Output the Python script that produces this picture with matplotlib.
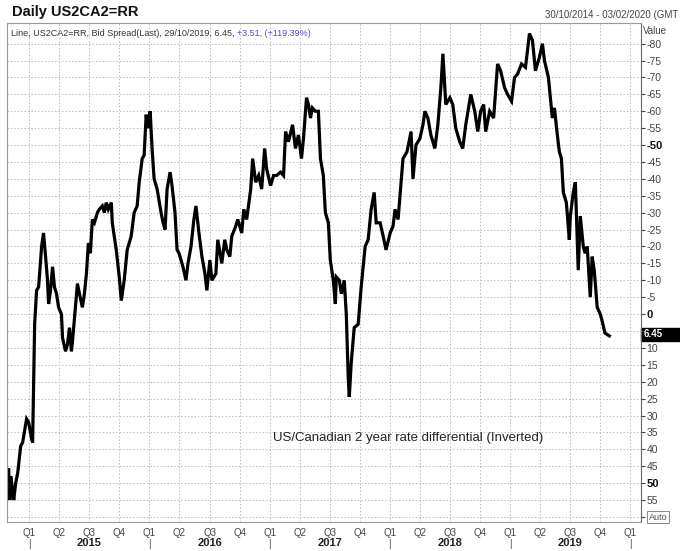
import matplotlib
matplotlib.use("Agg")
import matplotlib.pyplot as plt
import matplotlib.transforms as mtransforms

plt.rcParams['font.family'] = ['Liberation Sans', 'DejaVu Sans']

# bid spread (axis is inverted), x in decimal years
years = [2014.829, 2014.838, 2014.846, 2014.862, 2014.871, 2014.887, 2014.904, 2014.929,
         2014.945, 2014.978, 2014.995, 2015.020, 2015.028, 2015.045, 2015.061, 2015.078,
         2015.103, 2015.119, 2015.136, 2015.152, 2015.161, 2015.177, 2015.194, 2015.210,
         2015.227, 2015.244, 2015.268, 2015.277, 2015.302, 2015.318, 2015.335, 2015.351,
         2015.360, 2015.384, 2015.401, 2015.418, 2015.442, 2015.459, 2015.476, 2015.492,
         2015.509, 2015.525, 2015.542, 2015.567, 2015.583, 2015.608, 2015.625, 2015.641,
         2015.658, 2015.683, 2015.691, 2015.724, 2015.749, 2015.766, 2015.790, 2015.815,
         2015.848, 2015.873, 2015.898, 2015.915, 2015.940, 2015.956, 2015.973, 2015.989,
         2016.006, 2016.022, 2016.039, 2016.064, 2016.097, 2016.114, 2016.130, 2016.147,
         2016.172, 2016.188, 2016.213, 2016.230, 2016.246, 2016.263, 2016.279, 2016.304,
         2016.321, 2016.346, 2016.370, 2016.387, 2016.412, 2016.437, 2016.462, 2016.478,
         2016.503, 2016.520, 2016.553, 2016.569, 2016.602, 2016.627, 2016.644, 2016.669,
         2016.685, 2016.718, 2016.735, 2016.768, 2016.785, 2016.809, 2016.843, 2016.859,
         2016.884, 2016.909, 2016.934, 2016.959, 2016.975, 2017.008, 2017.033, 2017.058,
         2017.091, 2017.116, 2017.133, 2017.157, 2017.191, 2017.215, 2017.240, 2017.265,
         2017.282, 2017.307, 2017.323, 2017.340, 2017.356, 2017.381, 2017.406, 2017.423,
         2017.447, 2017.464, 2017.489, 2017.505, 2017.530, 2017.547, 2017.555, 2017.580,
         2017.597, 2017.621, 2017.638, 2017.655, 2017.663, 2017.679, 2017.704, 2017.737,
         2017.762, 2017.795, 2017.820, 2017.845, 2017.870, 2017.887, 2017.920, 2017.945,
         2017.969, 2018.003, 2018.027, 2018.044, 2018.069, 2018.085, 2018.110, 2018.143,
         2018.177, 2018.193, 2018.218, 2018.251, 2018.276, 2018.292, 2018.317, 2018.342,
         2018.375, 2018.400, 2018.425, 2018.442, 2018.466, 2018.500, 2018.524, 2018.549,
         2018.582, 2018.607, 2018.632, 2018.674, 2018.707, 2018.732, 2018.756, 2018.781,
         2018.798, 2018.831, 2018.864, 2018.897, 2018.922, 2018.955, 2018.980, 2019.013,
         2019.038, 2019.063, 2019.096, 2019.129, 2019.146, 2019.162, 2019.187, 2019.212,
         2019.245, 2019.270, 2019.287, 2019.320, 2019.336, 2019.353, 2019.370, 2019.394,
         2019.411, 2019.428, 2019.444, 2019.469, 2019.494, 2019.502, 2019.527, 2019.544,
         2019.568, 2019.585, 2019.610, 2019.626, 2019.643, 2019.668, 2019.684, 2019.701,
         2019.726, 2019.751, 2019.767, 2019.790, 2019.827]
values = [46, 55, 48, 52, 55, 50, 47, 39,
          38, 31, 32, 37, 38, 3, -7, -8,
          -20, -24, -17, -10, -3, -7, -14, -8,
          -6, -2, 0, 7, 11, 9, 4, 11,
          8, -2, -9, -6, -2, -6, -12, -21,
          -18, -28, -27, -30, -31, -32, -30, -33,
          -31, -33, -27, -19, -11, -4, -10, -19,
          -23, -30, -32, -39, -46, -47, -59, -55,
          -60, -49, -40, -37, -30, -27, -25, -37,
          -42, -38, -30, -19, -18, -16, -14, -10,
          -15, -20, -28, -32, -24, -17, -12, -7,
          -16, -10, -12, -22, -15, -22, -19, -17,
          -23, -26, -28, -24, -31, -28, -37, -46,
          -39, -41, -37, -49, -43, -38, -41, -41,
          -42, -41, -54, -51, -56, -49, -53, -46,
          -52, -64, -62, -58, -61, -60, -60, -46,
          -41, -30, -27, -16, -10, -3, -11, -10,
          -6, -10, 0, 19.5, 24.5, 14.5, 4, 3,
          -8, -20, -22, -31, -36, -27, -27, -23,
          -19, -24, -26, -31, -28, -35, -46, -48,
          -54, -40, -50, -52, -56, -60, -58, -53,
          -49, -56, -67, -77, -62, -64, -62, -55,
          -51, -49, -56, -65, -60, -54, -60, -62,
          -54, -60, -58, -74, -72, -67, -65, -63,
          -70, -71, -74, -73, -78, -83, -81, -72,
          -76, -80, -75, -70, -64, -58, -61, -53,
          -48, -46, -36, -33, -22, -29, -36, -39,
          -13, -29, -20, -18, -20, -5, -17, -13,
          -2, 0, 2, 5.6, 6.45]

quarter_labels = ['Q1', 'Q2', 'Q3', 'Q4']
year_labels = ['2015', '2016', '2017', '2018', '2019']
y_ticks = list(range(-80, 65, 5))
hidden_ticks = [5, 60]
bold_ticks = [-50, 0, 50]
last_value = 6.45

fig = plt.figure(figsize=(6.8, 5.51), dpi=100)
ax = fig.add_axes([0.0103, 0.0526, 0.9323, 0.9056])

ax.plot(years, values, color='black', lw=2.3, solid_joinstyle='miter')

ax.set_xlim(2014.815, 2020.09)
ax.set_ylim(61.5, -86.1)

# quarter ticks
qx = []
qlab = []
for yl in year_labels + ['2020']:
    for q in range(4):
        if yl == '2020' and q > 0:
            break
        qx.append(int(yl) + q * 0.25)
        qlab.append(quarter_labels[q])
ax.set_xticks(qx)
ax.set_xticklabels(qlab)
ax.tick_params(axis='x', length=0, labelsize=7, colors='#444444', pad=4)

ax.yaxis.tick_right()
ax.set_yticks(y_ticks)
ax.set_yticklabels(['' if v in hidden_ticks else str(v) for v in y_ticks])
ax.tick_params(axis='y', length=3, labelsize=7.5, colors='#444444', pad=1)
for lab, v in zip(ax.get_yticklabels(), y_ticks):
    if v in bold_ticks:
        lab.set_fontweight('bold')
        lab.set_color('#111111')
        lab.set_fontsize(8)

ax.grid(True, color='#bbbbbb', ls=(0, (1.5, 2)), lw=0.7)
for s in ['left', 'top', 'bottom']:
    ax.spines[s].set_color('#999999')
ax.spines['right'].set_color('#666666')

# year labels and separators under the axis
trans = mtransforms.blended_transform_factory(ax.transData, fig.transFigure)
for yl in year_labels:
    ax.text(int(yl) + 0.5, 1 - 543 / 551, yl, transform=trans, ha='center',
            va='center', fontsize=8, fontweight='bold', color='#222222')
for yl in year_labels + ['2020']:
    ax.text(int(yl), 1 - 544 / 551, '|', transform=trans, ha='center',
            va='center', fontsize=7, color='#444444')

# last value box
fig.patches.append(plt.Rectangle((641 / 680, 1 - 341 / 551), 39 / 680, 13 / 551,
                                 transform=fig.transFigure, color='black', zorder=5))
ytrans = mtransforms.blended_transform_factory(ax.transAxes, ax.transData)
ax.text(1.004, last_value - 0.6, '6.45', transform=ytrans, ha='left', va='center',
        fontsize=7, fontweight='bold', color='white', zorder=10, clip_on=False)
ax.set_zorder(6)
ax.patch.set_alpha(0)

# header
fig.text(12 / 680, 1 - 12 / 551, 'Daily US2CA2=RR', fontsize=10.5, fontweight='bold',
         va='center', ha='left', color='#111111')
fig.text(545 / 680, 1 - 15 / 551, '30/10/2014 - 03/02/2020 (GMT', fontsize=7,
         va='center', ha='left', color='#444444')
fig.text(643 / 680, 1 - 31 / 551, 'Value', fontsize=7, va='center', ha='left',
         color='#444444')
t1 = ax.text(0.006, 0.988, 'Line, US2CA2=RR, Bid Spread(Last), 29/10/2019, 6.45, ',
             transform=ax.transAxes, fontsize=6.5, va='top', ha='left', color='#333333')
fig.canvas.draw()
bb = t1.get_window_extent().transformed(ax.transAxes.inverted())
ax.text(bb.x1, 0.988, '+3.51, (+119.39%)', transform=ax.transAxes, fontsize=6.5,
        va='top', ha='left', color='#4a4ad0')

ax.text(2017.03, 36.5, 'US/Canadian 2 year rate differential (Inverted)', fontsize=9.5,
        ha='left', va='center', color='#222222')

fig.text(658 / 680, 1 - 517 / 551, 'Auto', fontsize=6.5, ha='center', va='center',
         color='#555555', bbox=dict(boxstyle='square,pad=0.15', fc='white', ec='#888888', lw=0.7))

fig.savefig('out.png', dpi=100)
